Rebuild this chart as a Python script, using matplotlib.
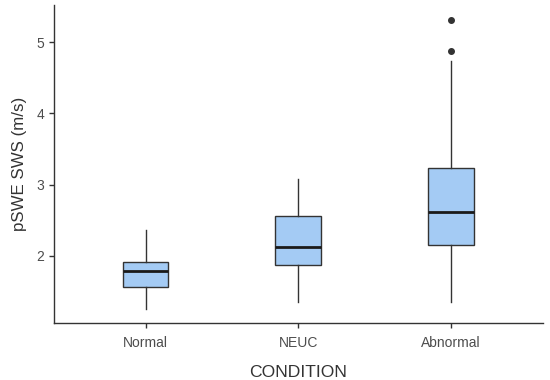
import matplotlib
matplotlib.use("Agg")
import matplotlib.pyplot as plt

plt.rcParams['font.family'] = ['Liberation Sans', 'DejaVu Sans']

conditions = ['Normal', 'NEUC', 'Abnormal']
whisker_low = [1.26, 1.36, 1.35]
q1 = [1.57, 1.88, 2.16]
median = [1.79, 2.13, 2.61]
q3 = [1.91, 2.56, 3.24]
whisker_high = [2.365, 3.08, 4.73]
outliers = [[], [], [5.31, 4.88]]

stats = []
for i, name in enumerate(conditions):
    stats.append({'label': name, 'whislo': whisker_low[i], 'q1': q1[i],
                  'med': median[i], 'q3': q3[i], 'whishi': whisker_high[i],
                  'fliers': outliers[i]})

fig = plt.figure(figsize=(5.5, 3.8), dpi=100)
ax = fig.add_axes([0.098, 0.15, 0.889, 0.837])

edge = '#333333'
ax.bxp(stats, positions=[1, 2, 3], widths=0.3, patch_artist=True, showcaps=False,
       boxprops=dict(facecolor='#a4cbf4', edgecolor=edge, linewidth=1.0),
       medianprops=dict(color='#1a1a1a', linewidth=2.0),
       whiskerprops=dict(color=edge, linewidth=1.0),
       flierprops=dict(marker='o', markerfacecolor=edge, markeredgecolor=edge,
                       markersize=4))

ax.set_xlim(0.4, 3.6)
ax.set_ylim(1.06, 5.52)
ax.set_yticks([2, 3, 4, 5])
ax.set_yticklabels(['2', '3', '4', '5'])

for s in ['top', 'right']:
    ax.spines[s].set_visible(False)
for s in ['left', 'bottom']:
    ax.spines[s].set_color('#333333')
    ax.spines[s].set_linewidth(1.0)

ax.tick_params(axis='both', colors='#333333', labelcolor='#4d4d4d',
               labelsize=10, length=3.5, width=1.0)
ax.tick_params(axis='x', pad=6)
ax.set_xlabel('CONDITION', fontsize=12.6, color='#333333', labelpad=11)
ax.set_ylabel('pSWE SWS (m/s)', fontsize=12.2, color='#333333', labelpad=7)

fig.savefig('out.png', dpi=100)
